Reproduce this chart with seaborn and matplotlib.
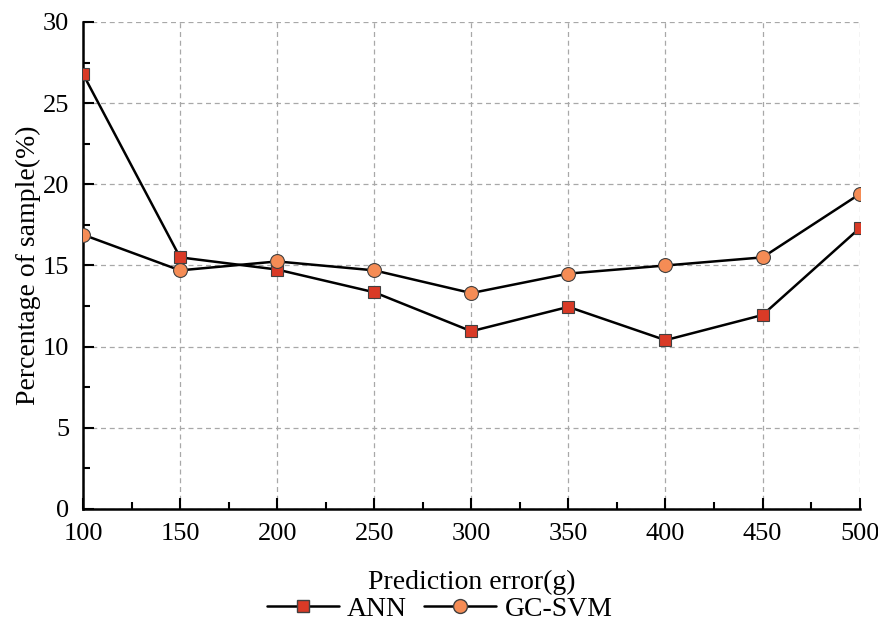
import pandas as pd
import matplotlib.pyplot as plt
import seaborn as sns
from matplotlib.ticker import MultipleLocator

errors = [100, 150, 200, 250, 300, 350, 400, 450, 500]
ann = [26.8, 15.5, 14.75, 13.35, 10.95, 12.45, 10.4, 11.95, 17.3]
gc_svm = [16.9, 14.7, 15.25, 14.7, 13.3, 14.5, 15.0, 15.5, 19.4]

df = pd.DataFrame({
    "error": errors * 2,
    "pct": ann + gc_svm,
    "model": ["ANN"] * len(errors) + ["GC-SVM"] * len(errors),
})

sns.set_style("ticks")
plt.rcParams['font.family'] = ['Liberation Serif', 'DejaVu Serif']
plt.rcParams['text.color'] = 'black'
plt.rcParams['axes.labelcolor'] = 'black'
plt.rcParams['xtick.color'] = 'black'
plt.rcParams['ytick.color'] = 'black'
plt.rcParams['axes.edgecolor'] = 'black'

fig = plt.figure(figsize=(8.79, 6.28), dpi=100)
ax = fig.add_axes([0.0944, 0.1895, 0.8836, 0.7755])

sns.lineplot(data=df, x="error", y="pct", hue="model", style="model",
             markers={"ANN": "s", "GC-SVM": "o"}, dashes=False,
             palette={"ANN": "black", "GC-SVM": "black"},
             linewidth=1.8, ax=ax, legend=False, zorder=3)

# recolour markers
face = {"ANN": "#d93a26", "GC-SVM": "#f58c55"}
for line, name in zip(ax.get_lines(), ["ANN", "GC-SVM"]):
    line.set_markerfacecolor(face[name])
    line.set_markeredgecolor("#404040")
    line.set_markeredgewidth(0.8)
    line.set_markersize(10 if name == "GC-SVM" else 9)

ax.set_xlim(100, 500)
ax.set_ylim(0, 30)
ax.xaxis.set_major_locator(MultipleLocator(50))
ax.xaxis.set_minor_locator(MultipleLocator(25))
ax.yaxis.set_major_locator(MultipleLocator(5))
ax.yaxis.set_minor_locator(MultipleLocator(2.5))
ax.tick_params(which="major", direction="in", length=8, width=1.5, labelsize=19)
ax.tick_params(axis="x", which="major", pad=10)
ax.tick_params(axis="y", which="major", pad=10)
ax.tick_params(which="minor", direction="in", length=5, width=1.5)
ax.grid(True, which="major", linestyle=(0, (4, 3)), color="#a8a8a8", linewidth=0.9)
for s in ["top", "right"]:
    ax.spines[s].set_visible(False)
for s in ["left", "bottom"]:
    ax.spines[s].set_linewidth(1.8)

ax.set_xlabel("Prediction error(g)", fontsize=20, labelpad=18)
ax.set_ylabel("Percentage of sample(%)", fontsize=20, labelpad=1)

handles = [plt.Line2D([], [], color="black", lw=1.8, marker="s", markersize=9,
                      markerfacecolor=face["ANN"], markeredgecolor="#404040"),
           plt.Line2D([], [], color="black", lw=1.8, marker="o", markersize=10,
                      markerfacecolor=face["GC-SVM"], markeredgecolor="#404040")]
fig.legend(handles, ["ANN", "GC-SVM"], loc="lower center", ncol=2, frameon=False,
           fontsize=20, bbox_to_anchor=(0.5, -0.03), handlelength=2.6,
           columnspacing=0.6, handletextpad=0.3)

fig.savefig("out.png", dpi=100)
